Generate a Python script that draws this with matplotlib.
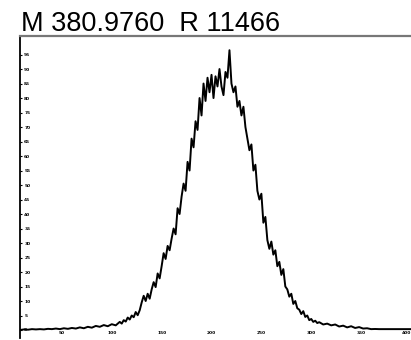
import numpy as np
import matplotlib.pyplot as plt

title = "M 380.9760  R 11466"

# intensity (percent of full scale), three sampling runs
left_tail = [0.0, 0.2, 0.1, 0.3, 0.2, 0.3, 0.2, 0.4, 0.3, 0.5, 0.3, 0.6, 0.4,
             0.7, 0.5, 0.9, 0.6, 1.1, 0.8, 1.4, 1.1, 1.7, 1.3, 2.0, 1.6, 2.8]
peak = [2.2, 3.4, 2.9, 4.3, 3.6, 5.0, 4.4, 6.2, 5.1, 6.8,
        9.5, 11.8, 10.0, 12.5, 10.8, 14.0, 16.5, 14.8, 19.5, 17.8,
        22.0, 26.5, 24.5, 29.0, 27.5, 31.5, 35.0, 33.0, 42.0, 40.0,
        46.0, 50.5, 48.0, 58.0, 55.0, 66.0, 63.0, 72.0, 69.0, 80.0,
        74.0, 85.0, 79.0, 87.0, 82.0, 88.0, 80.0, 87.5, 84.0, 90.0,
        84.0, 81.0, 89.0, 87.0, 96.5, 85.0, 82.0, 84.0, 77.0, 79.0,
        74.0, 77.0, 70.0, 66.0, 62.0, 64.0, 55.0, 57.0, 48.0, 45.0,
        47.0, 37.0, 39.0, 31.0, 28.0, 30.5, 26.0, 27.5, 22.0, 23.5,
        19.0, 21.0, 15.0, 14.0, 11.5, 12.5, 9.0, 10.0, 7.5, 7.0,
        5.5, 6.5, 4.5, 5.0, 3.4, 3.8, 2.8, 3.2, 2.4, 2.7]
right_tail = [1.9, 2.2, 1.6, 1.9, 1.2, 1.5, 0.9, 1.3, 0.7, 1.0, 0.5, 0.6,
              0.3, 0.35, 0.3, 0.3, 0.3, 0.3, 0.3, 0.3, 0.3, 0.3, 0.3]

scan = np.concatenate([
    np.arange(8, 8 + 4 * len(left_tail), 4),
    np.arange(110, 110 + 2 * len(peak), 2),
    np.arange(312, 312 + 4 * len(right_tail), 4),
])
intensity = np.array(left_tail + peak + right_tail)

x_ticks = [50, 100, 150, 200, 250, 300, 350, 400]
y_ticks = list(range(0, 100, 5))

fig = plt.figure(figsize=(4.11, 3.40), dpi=100)
ax = fig.add_axes([20/411, 2/340, 391/411, 302/340])

ax.plot(scan, intensity, color='black', lw=1.4)

ax.set_xlim(8, 399)
ax.set_ylim(-2.76, 101.4)

ax.spines['right'].set_visible(False)
ax.spines['bottom'].set_visible(False)
ax.spines['top'].set_color('#777777')
ax.spines['top'].set_linewidth(1.6)
ax.spines['left'].set_color('black')
ax.spines['left'].set_linewidth(1.3)

ax.set_xticks(x_ticks)
ax.set_xticklabels([str(t) for t in x_ticks], fontweight='bold')
ax.set_yticks(y_ticks)
ax.set_yticklabels([str(t) for t in y_ticks], fontweight='bold')
ax.tick_params(axis='x', length=0, pad=-5, labelsize=3.2)
ax.tick_params(axis='y', direction='in', length=1.5, pad=-3, labelsize=3.2)
for lab in ax.get_yticklabels():
    lab.set_horizontalalignment('left')
ax.get_xticklabels()[-1].set_horizontalalignment('right')

fig.text(21/411, 1 - 31/340, title, fontsize=19.5, family='Liberation Sans',
         ha='left', va='baseline')

fig.savefig('out.png', dpi=100)
